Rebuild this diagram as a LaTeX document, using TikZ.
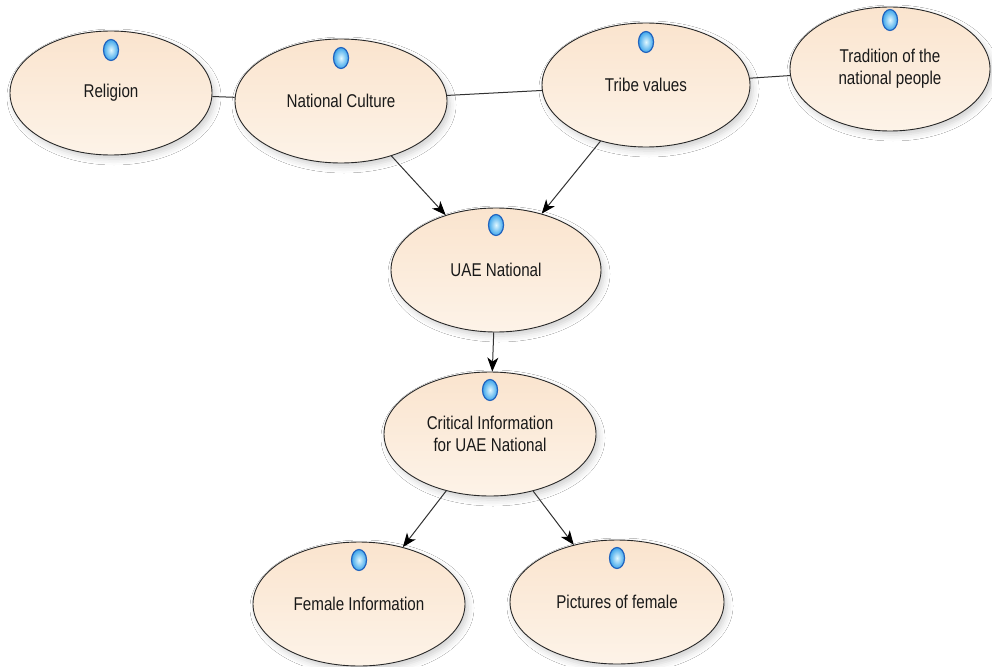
\documentclass[tikz,border=0pt]{standalone}
\usepackage{fontspec}
\setmainfont{Liberation Sans}[FakeStretch=0.82]
\usetikzlibrary{shapes.geometric,arrows.meta,shadows.blur}
\definecolor{peachtop}{RGB}{250,228,206}
\definecolor{peachbot}{RGB}{253,243,232}
\definecolor{edgegray}{RGB}{40,40,40}
\definecolor{linkgray}{RGB}{50,50,50}
\definecolor{iconrim}{RGB}{35,100,190}
\definecolor{iconcore}{RGB}{225,248,255}
\definecolor{iconouter}{RGB}{60,165,235}
\begin{document}
\begin{tikzpicture}[x=1pt,y=-1pt,
  concept/.style={ellipse, draw=edgegray, line width=0.9pt, inner sep=0pt,
    minimum width=212pt, minimum height=124pt,
    top color=peachtop, bottom color=peachbot,
    align=center, text=black!90, font=\fontsize{18.5}{22}\selectfont,
    blur shadow={shadow xshift=3pt, shadow yshift=-4pt,
      shadow blur radius=6pt, shadow opacity=18}},
  icon/.style={ellipse, inner sep=0pt, minimum width=15pt, minimum height=21pt,
    inner color=iconcore, outer color=iconouter, draw=iconrim, line width=1.2pt},
  link/.style={draw=linkgray, line width=1pt},
  flow/.style={link, -{Stealth[length=14pt,width=11pt,inset=4pt,fill=black,color=black]}}]

\fill[white] (0,0) rectangle (992,666);
\useasboundingbox (0,0) rectangle (992,666);

% concepts
\node[concept, minimum width=202pt] (religion)  at (111,93)  {Religion};
\node[concept]                      (culture)   at (341,101) {National Culture};
\node[concept, minimum width=208pt] (tribe)     at (646,85)  {Tribe values};
\node[concept, minimum width=200pt] (tradition) at (890,69)  {Tradition of the\\national people};
\node[concept, minimum width=210pt] (uae)       at (496,270) {UAE National};
\node[concept]                      (critical)  at (490,434) {Critical Information\\for UAE National};
\node[concept]                      (female)    at (359,604) {Female Information};
\node[concept, minimum width=214pt] (pictures)  at (617,602) {Pictures of female};

% marker bubbles
\node[icon] (religion-i)  at ([yshift=43pt]religion.center)  {};
\node[icon] (culture-i)   at ([yshift=43pt]culture.center)   {};
\node[icon] (tribe-i)     at ([yshift=43pt]tribe.center)     {};
\node[icon] (tradition-i) at ([yshift=49pt]tradition.center) {};
\node[icon] (uae-i)       at ([yshift=45pt]uae.center)       {};
\node[icon] (critical-i)  at ([yshift=44pt]critical.center)  {};
\node[icon] (female-i)    at ([yshift=44pt]female.center)    {};
\node[icon] (pictures-i)  at ([yshift=44pt]pictures.center)  {};

% associations
\draw[link] (religion) -- (culture);
\draw[link] (culture) -- (tribe);
\draw[link] (tribe) -- (tradition);

% influences
\draw[flow] (culture) -- (uae);
\draw[flow] (tribe) -- (uae);
\draw[flow] (uae) -- (critical);
\draw[flow] (critical) -- (female);
\draw[flow] (critical) -- (pictures);
\end{tikzpicture}
\end{document}
